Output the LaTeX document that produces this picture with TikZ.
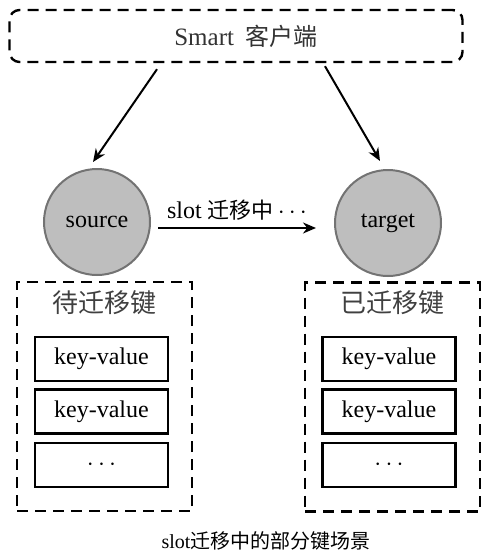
\documentclass[tikz,border=0pt]{standalone}
\usepackage{fontspec}
\setmainfont{Liberation Serif}
\newfontfamily\cjk{Noto Sans CJK SC}
\usetikzlibrary{arrows.meta,positioning}

\definecolor{nodefill}{RGB}{190,190,190}
\definecolor{nodeline}{RGB}{115,115,115}

\tikzset{
  dashbox/.style={draw, line width=2.4pt, dash pattern=on 11pt off 7pt},
  kvbox/.style={draw, line width=2.4pt, minimum width=133pt, minimum height=44pt,
    font=\fontsize{24}{28}\selectfont},
  slotnode/.style={circle, draw=nodeline, fill=nodefill, line width=2pt,
    minimum size=106pt, inner sep=0pt, font=\fontsize{24}{28}\selectfont},
  arr/.style={-{Stealth[length=13pt,width=11pt]}, line width=2pt},
}

\begin{document}
\begin{tikzpicture}[x=1pt,y=-1pt]
\useasboundingbox (0,0) rectangle (495,555);
% client
\node[dashbox, rounded corners=10pt, minimum width=453pt, minimum height=52pt,
  font=\fontsize{25}{29}\selectfont, text=black!80] (client) at (236,36)
  {\hspace*{20pt}Smart {\cjk\fontsize{24}{28}\selectfont\ 客户端}};
% source and target
\node[slotnode] (src) at (97,222) {source};
\node[slotnode] (tgt) at (388,223) {target};
\draw[arr] ([shift={(-79,6)}]client.south) -- ([shift={(-4,-6)}]src.north);
\draw[arr] ([shift={(89,3)}]client.south) -- ([shift={(-8,-8)}]tgt.north);
\draw[arr] ([shift={(7,6)}]src.east) -- ([shift={(-18,5)}]tgt.west)
  node[midway, above=3pt, font=\fontsize{24}{28}\selectfont] {slot {\cjk\fontsize{22}{26}\selectfont 迁移中}\,$\cdots$};
% key boxes
\node[dashbox, minimum width=175pt, minimum height=229pt] (pend) at (104.5,396.5) {};
\node[dashbox, minimum width=175pt, minimum height=229pt] (done) at (392.5,397) {};
\node[below=6pt of pend.north, font=\cjk\fontsize{26}{30}\selectfont, text=black!75] (pendt) {待迁移键};
\node[below=6pt of done.north, font=\cjk\fontsize{26}{30}\selectfont, text=black!75] (donet) {已迁移键};
\node[kvbox] (p1) at (101.5,359) {key-value};
\node[kvbox] (p2) at (101.5,411.5) {key-value};
\node[kvbox] (p3) at (101.5,465) {$\cdots$};
\node[kvbox] (d1) at (389,359) {key-value};
\node[kvbox] (d2) at (389,411.5) {key-value};
\node[kvbox] (d3) at (389,465) {$\cdots$};
% caption
\node[font=\fontsize{20}{24}\selectfont] (cap) at (266,541) {slot{\cjk 迁移中的部分键场景}};
\end{tikzpicture}
\end{document}
